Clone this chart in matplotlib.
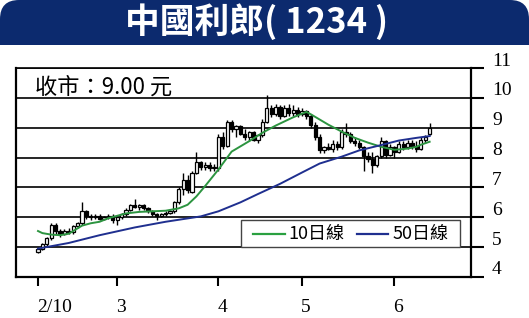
import numpy as np
import matplotlib.pyplot as plt
from matplotlib.patches import FancyBboxPatch, Rectangle

plt.rcParams['font.family'] = ['Noto Sans CJK TC', 'DejaVu Sans']

# daily candles (trading-day index 0 = 2/10)
opens = [4.85, 4.95, 5.10, 5.30, 5.75, 5.55, 5.45, 5.55, 5.50, 5.70,
         5.80, 6.20, 6.05, 6.00, 6.05, 5.95, 6.00, 6.05, 5.90, 6.00,
         6.10, 6.25, 6.40, 6.35, 6.40, 6.30, 6.20, 6.10, 6.05, 6.10,
         6.15, 6.20, 6.50, 6.95, 7.25, 6.85, 7.50, 7.85, 7.70, 7.75,
         7.65, 7.65, 8.70, 8.40, 9.20, 8.95, 9.05, 8.80, 8.70, 8.85,
         8.60, 8.75, 9.20, 9.65, 9.45, 9.70, 9.40, 9.65, 9.50, 9.60,
         9.45, 9.55, 9.40, 9.10, 8.70, 8.25, 8.35, 8.30, 8.45, 8.35,
         8.85, 8.80, 8.55, 8.50, 8.35, 8.05, 7.95, 7.75, 8.05, 8.55,
         8.10, 8.35, 8.20, 8.45, 8.35, 8.50, 8.40, 8.30, 8.60, 8.80]
highs = [5.00, 5.15, 5.35, 5.80, 5.80, 5.60, 5.60, 5.65, 5.75, 5.85,
         6.50, 6.25, 6.10, 6.10, 6.10, 6.05, 6.10, 6.10, 6.05, 6.15,
         6.30, 6.45, 6.60, 6.45, 6.45, 6.35, 6.25, 6.15, 6.15, 6.20,
         6.25, 6.55, 7.00, 7.50, 7.40, 7.55, 8.20, 7.90, 7.85, 7.85,
         7.80, 8.80, 8.85, 9.25, 9.25, 9.10, 9.10, 8.95, 8.90, 8.90,
         8.80, 9.30, 10.10, 9.75, 9.80, 9.75, 9.75, 9.80, 9.75, 9.70,
         9.65, 9.60, 9.45, 9.20, 8.80, 8.40, 8.50, 8.60, 8.55, 8.95,
         9.15, 8.85, 8.70, 8.60, 8.40, 8.20, 8.20, 8.10, 8.70, 8.60,
         8.45, 8.40, 8.55, 8.55, 8.60, 8.60, 8.55, 8.70, 8.75, 9.15]
lows = [4.80, 4.90, 5.05, 5.25, 5.45, 5.35, 5.40, 5.45, 5.45, 5.65,
        5.75, 5.95, 5.90, 5.95, 5.90, 5.90, 5.95, 5.80, 5.75, 5.95,
        6.05, 6.20, 6.30, 6.25, 6.25, 6.15, 6.05, 5.90, 6.00, 6.05,
        6.10, 6.15, 6.45, 6.75, 6.80, 6.80, 7.45, 7.60, 7.60, 7.55,
        7.55, 7.55, 8.30, 8.35, 8.85, 8.70, 8.75, 8.60, 8.55, 8.55,
        8.50, 8.70, 9.15, 9.35, 9.40, 9.30, 9.35, 9.40, 9.40, 9.35,
        9.40, 9.30, 9.00, 8.60, 8.15, 8.15, 8.25, 8.20, 8.25, 8.30,
        8.70, 8.50, 8.40, 8.30, 7.55, 7.85, 7.50, 7.70, 8.00, 8.00,
        8.05, 8.00, 8.15, 8.25, 8.30, 8.30, 8.20, 8.25, 8.50, 8.75]
closes = [4.95, 5.10, 5.30, 5.75, 5.55, 5.45, 5.55, 5.50, 5.70, 5.80,
          6.20, 6.05, 6.00, 6.05, 5.95, 6.00, 6.05, 5.90, 6.00, 6.10,
          6.25, 6.40, 6.35, 6.40, 6.30, 6.20, 6.10, 6.05, 6.10, 6.15,
          6.20, 6.50, 6.95, 7.25, 6.90, 7.50, 7.85, 7.70, 7.75, 7.65,
          7.70, 8.70, 8.40, 9.20, 8.95, 9.05, 8.80, 8.70, 8.85, 8.60,
          8.75, 9.20, 9.65, 9.45, 9.70, 9.40, 9.65, 9.50, 9.60, 9.45,
          9.55, 9.40, 9.10, 8.70, 8.25, 8.35, 8.30, 8.45, 8.35, 8.85,
          8.80, 8.55, 8.50, 8.35, 8.05, 7.95, 7.75, 8.05, 8.55, 8.10,
          8.35, 8.20, 8.45, 8.35, 8.50, 8.40, 8.30, 8.60, 8.70, 9.00]

# moving averages
ma10_day = [0, 1, 3, 5, 7, 10, 12, 14, 16, 20, 23, 26, 29, 32, 34, 36, 38,
            41, 44, 48, 51, 54, 58, 61, 62, 66, 69, 72, 75, 78, 81, 84, 86, 87, 89]
ma10 = [5.54, 5.47, 5.42, 5.40, 5.45, 5.72, 5.80, 5.85, 5.97, 6.13, 6.18, 6.20,
        6.22, 6.30, 6.42, 6.70, 7.05, 7.60, 8.20, 8.55, 8.83, 9.07, 9.35, 9.53,
        9.45, 9.10, 8.87, 8.66, 8.50, 8.36, 8.26, 8.30, 8.36, 8.43, 8.53]
ma50_day = [0, 7, 14, 22, 29, 37, 41, 46, 50, 55, 60, 64, 69, 73, 78, 82, 86, 89]
ma50 = [4.95, 5.14, 5.40, 5.66, 5.85, 6.03, 6.20, 6.50, 6.78, 7.12, 7.50, 7.80,
        8.03, 8.24, 8.42, 8.57, 8.66, 8.72]

tick_days = [0, 18, 41, 60, 81]
tick_labels = ['2/10', '3', '4', '5', '6']
price_ticks = [4, 5, 6, 7, 8, 9, 10, 11]

W, H = 529, 318
fig = plt.figure(figsize=(W / 100, H / 100), dpi=100)

# title banner (kept behind the axes)
navy = '#0c2a6e'
fig.patches.append(FancyBboxPatch((0, (H - 70) / 100), W / 100, 70 / 100,
                                  boxstyle='round,pad=0,rounding_size=0.19',
                                  transform=fig.dpi_scale_trans,
                                  facecolor=navy, edgecolor='none', zorder=-3))
fig.patches.append(Rectangle((0, (H - 70) / 100), W / 100, 25 / 100,
                             transform=fig.dpi_scale_trans,
                             facecolor='white', edgecolor='none', zorder=-2))
fig.text(257 / W, 1 - 22 / H, '中國利郎( 1234 )', color='white', fontsize=25,
         fontweight='heavy', ha='center', va='center')

ax = fig.add_axes([16 / W, 41 / H, 455 / W, 209 / H])
ax.patch.set_alpha(0)
ax.set_xlim(-5, 98.4)
ax.set_ylim(4, 11)

days = np.arange(len(closes))
o = np.array(opens)
c = np.array(closes)
ax.vlines(days, lows, highs, color='black', lw=1.0, zorder=3)
bottoms = np.minimum(o, c)
heights = np.maximum(np.abs(c - o), 0.03)
colors = ['white' if cc >= oo else 'black' for oo, cc in zip(o, c)]
ax.bar(days, heights, bottom=bottoms, width=0.75, color=colors,
       edgecolor='black', lw=0.9, zorder=4)

ax.plot(ma10_day, ma10, color='#2c9440', lw=1.4, zorder=5)
ax.plot(ma50_day, ma50, color='#1f2f8f', lw=1.4, zorder=5)

# axes styling
ax.set_yticks(price_ticks)
ax.set_yticklabels([])
ax.yaxis.tick_right()
ax.grid(axis='y', color='black', lw=1.2)
ax.set_axisbelow(True)
ax.tick_params(axis='y', direction='out', length=9.5, width=1.5)
ax.set_xticks(tick_days)
ax.set_xticklabels([])
ax.tick_params(axis='x', direction='out', length=6.5, width=1.5)
for s in ['left', 'right', 'bottom']:
    ax.spines[s].set_linewidth(1.6)
ax.spines['top'].set_linewidth(1.2)

for p in price_ticks:
    ax.annotate(str(p), xy=(1, p), xycoords=('axes fraction', 'data'),
                xytext=(21, 7), textcoords='offset pixels', ha='left', va='center',
                fontsize=14, family='Liberation Serif', annotation_clip=False)
for d, lab in zip(tick_days, tick_labels):
    ax.annotate(lab, xy=(d, 0), xycoords=('data', 'axes fraction'),
                xytext=(-1, -30), textcoords='offset pixels', ha='left', va='center',
                fontsize=14, family='Liberation Serif', annotation_clip=False)

ax.text(0.042, 0.909, '收市：9.00 元', transform=ax.transAxes, fontsize=16,
        ha='left', va='center')

# legend box
ax.add_patch(Rectangle((0.4945, 1 / 7), 0.9758 - 0.4945, 0.2727 - 1 / 7,
                       transform=ax.transAxes, facecolor='white',
                       edgecolor='#444444', lw=1.0, zorder=6))
ax.plot([0.521, 0.591], [0.206, 0.206], transform=ax.transAxes,
        color='#2aa040', lw=1.6, zorder=7)
ax.text(0.598, 0.206, '10日線', transform=ax.transAxes, fontsize=13,
        ha='left', va='center', zorder=7)
ax.plot([0.749, 0.818], [0.206, 0.206], transform=ax.transAxes,
        color='#1f2f8f', lw=1.6, zorder=7)
ax.text(0.8286, 0.206, '50日線', transform=ax.transAxes, fontsize=13,
        ha='left', va='center', zorder=7)

fig.savefig('out.png', dpi=100)
